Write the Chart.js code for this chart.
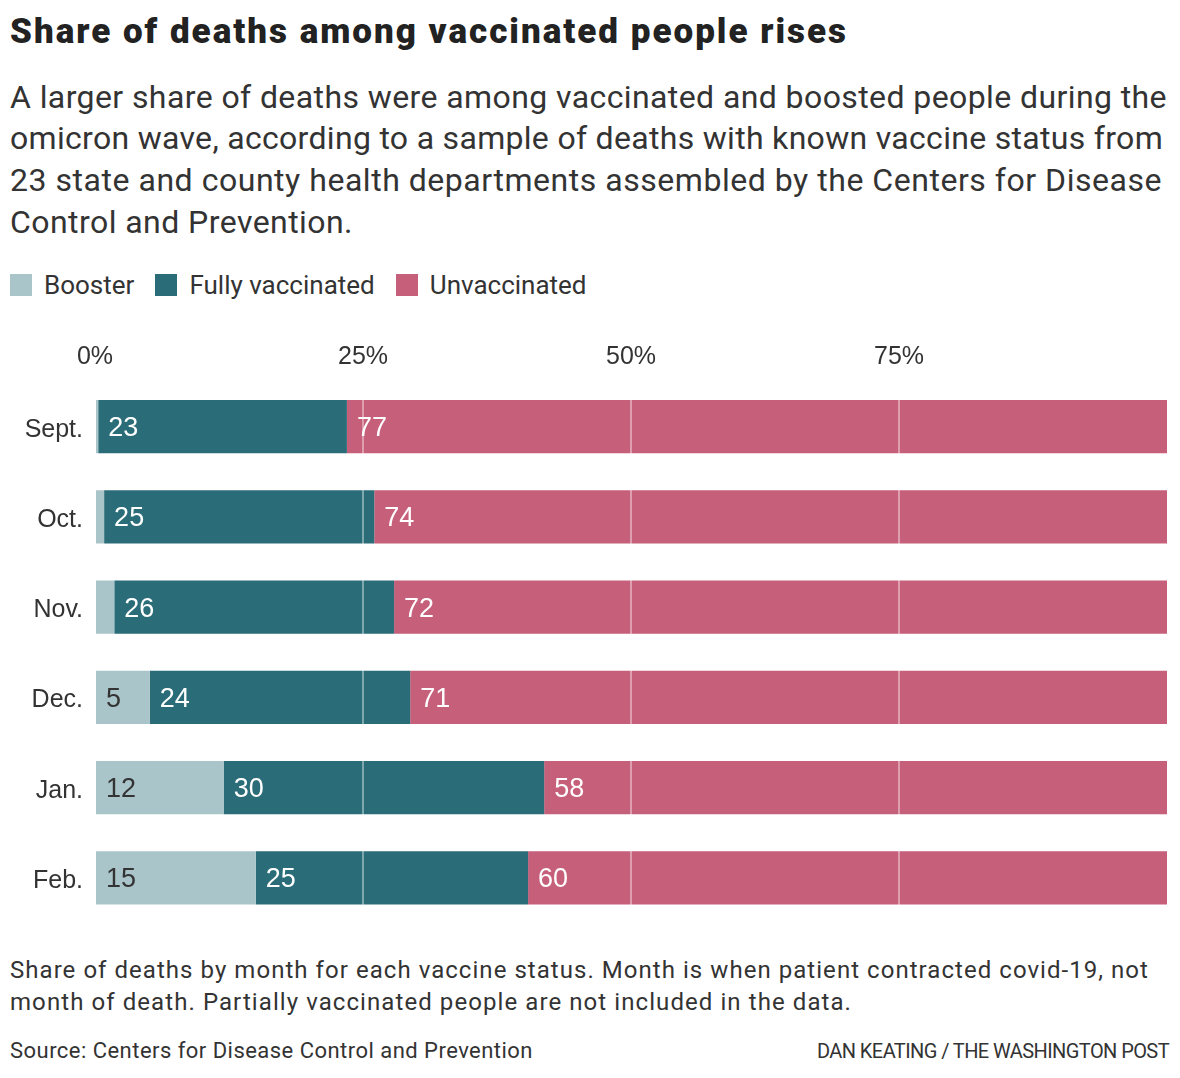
<!DOCTYPE html>
<html>
<head>
<meta charset="utf-8">
<script src="https://cdn.jsdelivr.net/npm/chart.js@4/dist/chart.umd.min.js"></script>
<style>
  html, body { margin: 0; padding: 0; background: #fff; }
  body { width: 1180px; height: 1078px; position: relative; overflow: hidden; font-family: Roboto, "Liberation Sans", sans-serif; color: #222; }
  .abs { position: absolute; white-space: nowrap; }
  #title { left: 10px; top: 11px; font-size: 35px; font-weight: 900; color: #222; }
  .sub { left: 10px; font-size: 32px; color: #333; }
  #legend { left: 10px; top: 270px; font-size: 26px; color: #333; display: flex; align-items: center; }
  #legend span.sw { display: inline-block; width: 22px; height: 22px; margin-right: 12px; }
  #legend span.lb { margin-right: 21px; }
  .note { left: 10px; font-size: 24px; color: #333; }
  #credit { right: 11px; top: 1039px; font-size: 20px; color: #333; }
  #wrap { position: absolute; left: 0; top: 330px; width: 1180px; height: 620px; }
</style>
</head>
<body>
<div id="title" class="abs" data-w="838">Share of deaths among vaccinated people rises</div>
<div class="abs sub" style="top:78px" data-w="1157">A larger share of deaths were among vaccinated and boosted people during the</div>
<div class="abs sub" style="top:119px" data-w="1153">omicron wave, according to a sample of deaths with known vaccine status from</div>
<div class="abs sub" style="top:161px" data-w="1152">23 state and county health departments assembled by the Centers for Disease</div>
<div class="abs sub" style="top:203px" data-w="343">Control and Prevention.</div>
<div id="legend" class="abs"></div>
<div id="wrap"><canvas id="c"></canvas></div>
<div class="abs note" style="top:956px" data-w="1139">Share of deaths by month for each vaccine status. Month is when patient contracted covid-19, not</div>
<div class="abs note" style="top:988px" data-w="842">month of death. Partially vaccinated people are not included in the data.</div>
<div class="abs note" style="top:1038px;font-size:22px" data-w="523">Source: Centers for Disease Control and Prevention</div>
<div id="credit" class="abs" data-w="352">DAN KEATING / THE WASHINGTON POST</div>
<script>
const months = ["Sept.", "Oct.", "Nov.", "Dec.", "Jan.", "Feb."];
const booster = [0.3, 0.85, 1.8, 5.1, 12.0, 15.0];
const fullyVaccinated = [23.2, 25.2, 26.1, 24.3, 29.9, 25.4];
const unvaccinated = [76.5, 73.95, 72.1, 70.6, 58.1, 59.6];
const seriesNames = ["Booster", "Fully vaccinated", "Unvaccinated"];
const seriesColors = ["#aac5ca", "#2a6d78", "#c65f7a"];
const labelColors = ["#333333", "#ffffff", "#ffffff"];
const tickValues = [0, 25, 50, 75];

const legend = document.getElementById('legend');
seriesNames.forEach((n, i) => {
  const sw = document.createElement('span'); sw.className = 'sw'; sw.style.background = seriesColors[i];
  const lb = document.createElement('span'); lb.className = 'lb'; lb.textContent = n;
  legend.appendChild(sw); legend.appendChild(lb);
});

// fit text lines to target widths with letter-spacing
document.querySelectorAll('[data-w]').forEach(el => {
  const target = +el.dataset.w;
  const w = el.getBoundingClientRect().width;
  const n = el.textContent.length;
  el.style.letterSpacing = ((target - w) / n) + 'px';
});

const valueLabels = {
  id: 'valueLabels',
  afterDatasetsDraw(chart) {
    const ctx = chart.ctx;
    ctx.save();
    ctx.font = '27px "Liberation Sans", Arial, sans-serif';
    ctx.textBaseline = 'middle';
    ctx.textAlign = 'left';
    chart.data.datasets.forEach((ds, di) => {
      const meta = chart.getDatasetMeta(di);
      meta.data.forEach((el, i) => {
        const v = ds.data[i];
        if (v < 4.5) return;
        ctx.fillStyle = labelColors[di];
        const left = Math.min(el.x, el.base);
        ctx.fillText(String(Math.round(v)), left + 10, el.y + 2);
      });
    });
    ctx.restore();
  }
};

new Chart(document.getElementById('c'), {
  type: 'bar',
  data: {
    labels: months,
    datasets: [booster, fullyVaccinated, unvaccinated].map((d, i) => ({
      label: seriesNames[i], data: d, backgroundColor: seriesColors[i],
      borderWidth: 0, categoryPercentage: 1, barPercentage: 0.592
    }))
  },
  options: {
    indexAxis: 'y',
    responsive: true,
    maintainAspectRatio: false,
    animation: false,
    layout: { padding: { left: 0, right: 13, top: 0, bottom: 0 } },
    plugins: { legend: { display: false }, tooltip: { enabled: false } },
    scales: {
      x: {
        position: 'top', stacked: true, min: 0, max: 100,
        afterBuildTicks(scale) { scale.ticks = tickValues.map(v => ({ value: v })); },
        ticks: {
          callback: v => v + '%', color: '#333', padding: 9,
          font: { family: '"Liberation Sans", Arial, sans-serif', size: 25 },
          maxRotation: 0, autoSkip: false
        },
        grid: { drawTicks: false, color: 'rgba(255,255,255,0.4)', lineWidth: 2, z: 1 },
        border: { display: false },
        afterFit(scale) { scale.height = 51.5; }
      },
      y: {
        stacked: true,
        ticks: { color: '#333', padding: 12, font: { family: '"Liberation Sans", Arial, sans-serif', size: 25 },
                 labelOffset: 3 },
        grid: { display: false, drawTicks: false },
        border: { display: false },
        afterFit(scale) { scale.width = 95; }
      }
    }
  },
  plugins: [valueLabels]
});
</script>
</body>
</html>
